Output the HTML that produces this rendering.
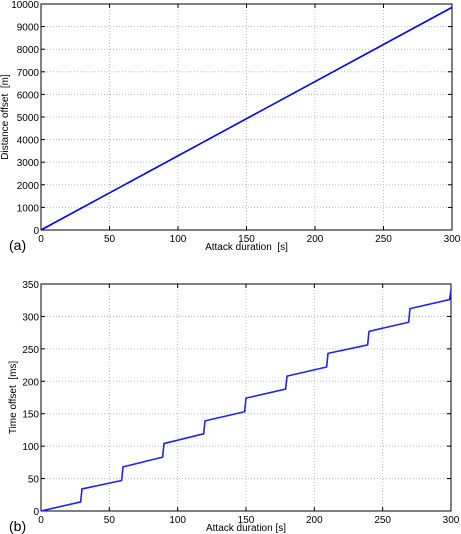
<!DOCTYPE html>
<html><head><meta charset="utf-8"><style>
body{margin:0;background:#fff;width:461px;height:534px;overflow:hidden}
svg{display:block;font-family:"Liberation Sans",sans-serif}
text{white-space:pre}
</style></head><body>
<svg id="c" width="461" height="534"></svg>
<script>
const xTicks=[0,50,100,150,200,250,300];
const yTicksA=[0,1000,2000,3000,4000,5000,6000,7000,8000,9000,10000];
const yTicksB=[0,50,100,150,200,250,300,350];
const distX=[0,300];
const distY=[0,9850];
const stepStartX=[0,30,60,90,120,150,180,210,240,270];
const stepEndX=[29,59,89,119,149,179,209,239,269,299];
const stepStartY=[0,34,68,104,139,174,208,243,277,312];
const stepEndY=[14,47,83,119,153,188,222,256,291,326];
const finalPt=[300,342];
const NS='http://www.w3.org/2000/svg';
const svg=document.getElementById('c');
function mk(t,a,p){const e=document.createElementNS(NS,t);for(const k in a)e.setAttribute(k,a[k]);(p||svg).appendChild(e);return e;}
function panel(id,L,R,T,B,ymax,yticks,ylabel,xlabel,tag,yoff){
  const g=mk('g',{});
  
  
  const sx=v=>L+(R-L)*v/300, sy=v=>B-(B-T)*v/ymax;
  xTicks.forEach(v=>{
    if(v>0&&v<300){const l=mk('line',{x1:sx(v),x2:sx(v),y1:T,y2:B,stroke:'#bbb','stroke-dasharray':'1,2','stroke-width':1},g);}
    mk('line',{x1:sx(v),x2:sx(v),y1:B,y2:B-4,stroke:'#000'},g);
    mk('line',{x1:sx(v),x2:sx(v),y1:T,y2:T+4,stroke:'#000'},g);
    const t=mk('text',{x:sx(v),y:B+12,'text-anchor':'middle','font-size':10},g);t.textContent=v;
    
  });
  yticks.forEach(v=>{
    if(v>0&&v<ymax){const l=mk('line',{x1:L,x2:R,y1:sy(v),y2:sy(v),stroke:'#bbb','stroke-dasharray':'1,2','stroke-width':1},g);}
    mk('line',{x1:L,x2:L+4,y1:sy(v),y2:sy(v),stroke:'#000'},g);
    mk('line',{x1:R,x2:R-4,y1:sy(v),y2:sy(v),stroke:'#000'},g);
    const t=mk('text',{x:L-2,y:sy(v)+4,'text-anchor':'end','font-size':10},g);t.textContent=v;
    
  });
  const f=mk('rect',{x:L,y:T,width:R-L,height:B-T,fill:'none',stroke:'#000','stroke-width':1},g);
  
  const yl=mk('text',{x:0,y:0,'font-size':10,'text-anchor':'middle',transform:`translate(${L-yoff},${(T+B)/2}) rotate(-90)`},g);yl.textContent=ylabel;
  
  const xl=mk('text',{x:(L+R)/2,y:B+20,'font-size':10,'text-anchor':'middle'},g);xl.textContent=xlabel;
  
  const tg=mk('text',{x:9,y:B+20,'font-size':14},g);tg.textContent=tag;
  
  return {g,sx,sy};
}
const A=panel('panel-a',41,452,4,230,10000,yTicksA,'Distance offset  [m]','Attack duration  [s]','(a)',33);
const la=mk('line',{x1:A.sx(distX[0]),y1:A.sy(distY[0]),x2:A.sx(distX[1]),y2:A.sy(distY[1]),stroke:'#00f','stroke-width':1.6},A.g);

const B=panel('panel-b',41,451,284,511,350,yTicksB,'Time offset  [ms]','Attack duration [s]','(b)',25);
let pts=[];
stepStartX.forEach((x,i)=>{pts.push([stepStartX[i],stepStartY[i]]);pts.push([stepEndX[i],stepEndY[i]]);});
pts.push(finalPt);
const lb=mk('polyline',{points:pts.map(p=>B.sx(p[0])+','+B.sy(p[1])).join(' '),fill:'none',stroke:'#22f','stroke-width':1.6},B.g);

</script>
</body></html>
